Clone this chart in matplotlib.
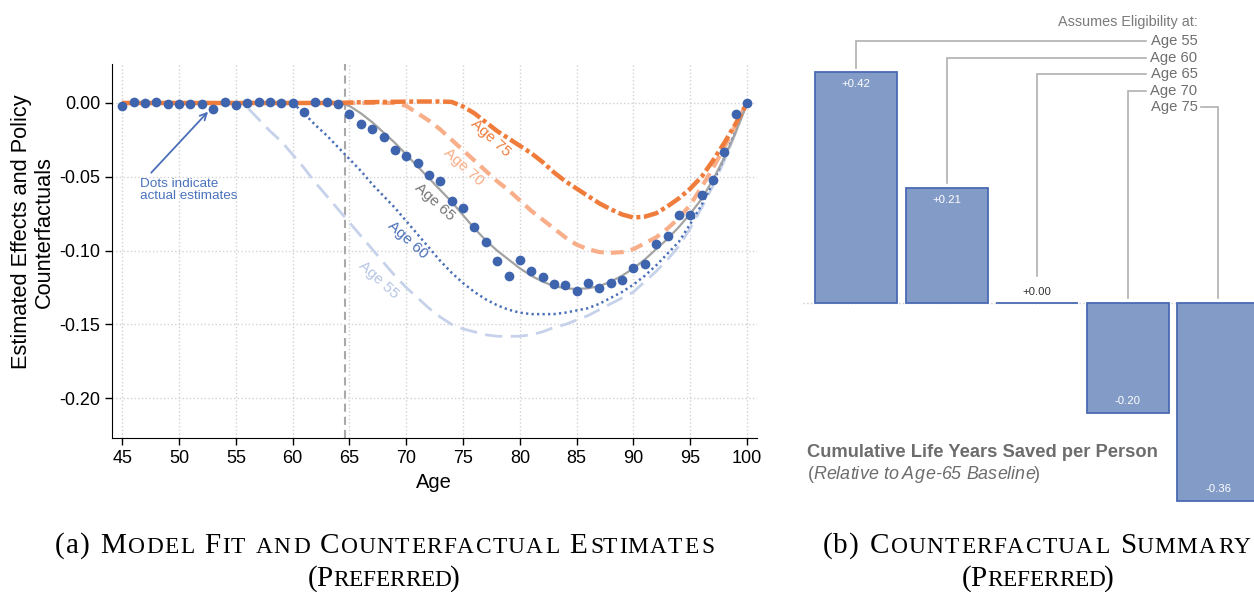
import numpy as np
import matplotlib.pyplot as plt
from matplotlib.font_manager import findfont, FontProperties
from matplotlib.ft2font import FT2Font

plt.rcParams['font.family'] = ['Liberation Sans', 'DejaVu Sans']

# ---- model fit and counterfactual paths (effect by age) ----
ages = np.arange(45, 101)

estimates = [-0.002, 0.0005, 0.0, 0.001, -0.001, -0.001, -0.0007, -0.001, -0.004, 0.0007,
             -0.0014, 0.0, 0.0005, 0.0007, 0.0, 0.0, -0.006, 0.0005, 0.0005, -0.0007,
             -0.0077, -0.0145, -0.0176, -0.0228, -0.032, -0.0357, -0.0409, -0.049, -0.0526, -0.0664,
             -0.071, -0.0838, -0.0942, -0.1067, -0.117, -0.1062, -0.1137, -0.118, -0.1225, -0.1236,
             -0.1275, -0.1216, -0.1252, -0.1216, -0.1196, -0.1116, -0.109, -0.0954, -0.09, -0.076,
             -0.076, -0.0622, -0.0524, -0.0332, -0.0075, 0.0]

age55 = [0.0] * 11 + [
    -0.003, -0.011, -0.019, -0.026, -0.035, -0.044, -0.054, -0.063, -0.072, -0.081,
    -0.090, -0.099, -0.108, -0.117, -0.125, -0.132, -0.139, -0.145, -0.150, -0.153,
    -0.155, -0.157, -0.158, -0.158, -0.158, -0.157, -0.155, -0.152, -0.150, -0.147,
    -0.144, -0.140, -0.136, -0.132, -0.128, -0.121, -0.114, -0.106, -0.097, -0.085,
    -0.071, -0.056, -0.039, -0.020, 0.0]

age60 = [0.0] * 16 + [
    -0.007, -0.015, -0.022, -0.030, -0.038, -0.046, -0.055, -0.063, -0.071, -0.080,
    -0.089, -0.098, -0.107, -0.115, -0.122, -0.128, -0.133, -0.137, -0.140, -0.142,
    -0.143, -0.143, -0.143, -0.142, -0.1405, -0.139, -0.136, -0.132, -0.128, -0.123,
    -0.117, -0.110, -0.102, -0.094, -0.082, -0.069, -0.054, -0.037, -0.019, 0.0]

age65 = [0.0] * 20 + [
    -0.002, -0.007, -0.013, -0.020, -0.027, -0.035, -0.043, -0.051, -0.059, -0.067,
    -0.076, -0.085, -0.093, -0.100, -0.106, -0.112, -0.117, -0.121, -0.124, -0.1255,
    -0.126, -0.1255, -0.124, -0.121, -0.117, -0.112, -0.106, -0.099, -0.092, -0.084,
    -0.075, -0.065, -0.052, -0.037, -0.020, 0.0]

age70 = [0.0] * 25 + [
    -0.002, -0.007, -0.012, -0.018, -0.025, -0.032, -0.039, -0.046, -0.053, -0.059,
    -0.066, -0.073, -0.079, -0.085, -0.091, -0.096, -0.099, -0.101, -0.1015, -0.101,
    -0.099, -0.095, -0.091, -0.085, -0.078, -0.069, -0.057, -0.044, -0.030, -0.015, 0.0]

age75 = [0.0] * 20 + [
    0.0003, 0.0005, 0.0006, 0.0007, 0.0008, 0.0009, 0.001, 0.001, 0.001, 0.0007,
    -0.0024, -0.007, -0.013, -0.019, -0.024, -0.029, -0.034, -0.040, -0.047, -0.053,
    -0.058, -0.063, -0.068, -0.072, -0.0755, -0.0776, -0.077, -0.0747, -0.070, -0.0646,
    -0.058, -0.050, -0.039, -0.027, -0.014, 0.0]

cutoff = 64.6

# ---- summary: life years saved relative to age-65 baseline ----
elig_labels = ['Age 55', 'Age 60', 'Age 65', 'Age 70', 'Age 75']
savings = [0.42, 0.21, 0.00, -0.20, -0.36]

W, H = 1254, 592
fig = plt.figure(figsize=(W / 100, H / 100), dpi=100)


def box(l, t, r, b):
    return [l / W, 1 - b / H, (r - l) / W, (b - t) / H]


_fonts = {}


def ft_font(family, style):
    key = (family, style)
    if key not in _fonts:
        path = findfont(FontProperties(family=family, style=style))
        _fonts[key] = FT2Font(path, hinting_factor=1)
    return _fonts[key]


def place_runs(runs, x, y, align='left'):
    """Set text runs glyph by glyph on one baseline, pixel coords.
    runs: (string, text kwargs, extra tracking in px)."""
    glyphs = []
    pen = 0.0
    last_track = 0.0
    for s, kw, track in runs:
        f = ft_font(kw.get('family', 'Liberation Sans'), kw.get('style', 'normal'))
        f.set_size(kw['fontsize'], 100)
        for ch in s:
            g = f.load_char(ord(ch))
            glyphs.append((ch, pen + g.horiBearingX / 64, kw))
            pen += g.linearHoriAdvance / 65536 + track
        last_track = track
    total = pen - last_track
    x0 = x - total / 2 if align == 'center' else x
    for ch, px, kw in glyphs:
        if ch != ' ':
            fig.text((x0 + px) / W, 1 - y / H, ch, va='baseline', ha='left', **kw)


def small_caps(text, xc, y, size, ratio=0.8, track=1.6, keep=''):
    """Small-caps line; the leading `keep` part stays in normal case."""
    big = dict(fontsize=size, family='Liberation Serif', color='black')
    small = dict(fontsize=size * ratio, family='Liberation Serif', color='black')
    runs = [(keep, big, track)] if keep else []
    for ch in text:
        if ch.islower():
            runs.append((ch.upper(), small, track))
        else:
            runs.append((ch, big, track))
    place_runs(runs, xc, y, align='center')


# ================= left panel =================
ax = fig.add_axes(box(112.3, 64, 756.7, 437.7))
ax.set_xlim(44.12, 100.85)
ax.set_ylim(-0.2267, 0.0264)

ax.plot(ages, age55, color='#c6d2ea', lw=2, dashes=(6.2, 3), zorder=2)
ax.plot(ages, age60, color='#4a6fb8', lw=1.8, dashes=(0.9, 1.3), zorder=2.1)
ax.plot(ages, age70, color='#f8ae88', lw=3, dashes=(3.1, 1.7), zorder=2.2)
ax.plot(ages, age65, color='#a3a3a3', lw=1.6, zorder=2.3)
pre = ages <= 64
a75 = np.array(age75)
ax.plot(ages[pre], a75[pre], color='#f07c3c', lw=3.2, zorder=2.4,
        solid_capstyle='butt')
ax.plot(ages[ages >= 64], a75[ages >= 64], color='#f07c3c', lw=3.2,
        dashes=(3.4, 0.8, 0.9, 0.8), zorder=2.4)
ax.plot(ages, estimates, 'o', ms=7, color='#3e64ad', mew=0, zorder=5)

ax.axvline(cutoff, color='#a9a9a9', lw=1.5, dashes=(3.9, 2.4), zorder=1.5)

curve_labels = [
    ('Age 75', 77.45, -0.0238, '#f07c3c'),
    ('Age 70', 75.02, -0.0431, '#f8ad85'),
    ('Age 65', 72.53, -0.0668, '#777777'),
    ('Age 60', 70.09, -0.0928, '#4a6fb8'),
    ('Age 55', 67.54, -0.1199, '#b5c5e3'),
]
for txt, x, y, c in curve_labels:
    ax.text(x, y, txt, color=c, fontsize=11, rotation=-42,
            rotation_mode='anchor', ha='center', va='center', zorder=6)

ax.annotate('Dots indicate\nactual estimates', xy=(52.55, -0.0059),
            xytext=(46.55, -0.0505), ha='left', va='top', color='#4a72bd',
            fontsize=9.7, linespacing=1.1,
            arrowprops=dict(arrowstyle='->', color='#4a6fb8', lw=1.3,
                            relpos=(0.07, 1.0), shrinkA=2, shrinkB=0,
                            mutation_scale=12))

ax.set_xticks(range(45, 101, 5))
yt = [0.0, -0.05, -0.10, -0.15, -0.20]
ax.set_yticks(yt)
ax.set_yticklabels([f'{v:.2f}' for v in yt])
ax.tick_params(labelsize=13, length=5, width=1, direction='out', colors='black')
for side in ('top', 'right'):
    ax.spines[side].set_visible(False)
ax.grid(True, color='#d2d2d2', linestyle=':', linewidth=1)
ax.set_axisbelow(True)

fig.text(434 / W, 1 - 483 / H, 'Age', fontsize=14.5, ha='center', va='center')
fig.text(22 / W, 1 - 232 / H, 'Estimated Effects and Policy', fontsize=15.7,
         rotation=90, ha='center', va='center')
fig.text(44 / W, 1 - 232 / H, 'Counterfactuals', fontsize=15.7,
         rotation=90, ha='center', va='center')

# ================= right panel =================
ax2 = fig.add_axes(box(803, 0, 1254, 520))
ax2.set_xlim(-0.585, 4.393)
ax2.set_ylim(-0.3945, 0.551)
ax2.axis('off')

ax2.axhline(0, color='#cccccc', lw=1, ls=':', zorder=0)
xs = np.arange(len(savings))
ax2.bar(xs, savings, width=0.905, color='#839bc7', edgecolor='#4a6ab3',
        linewidth=1.3, zorder=2)

for x, v in zip(xs, savings):
    if v > 0:
        ax2.text(x, v - 0.022, f'{v:+.2f}', color='white', fontsize=8.2,
                 ha='center', va='center', zorder=3)
    elif v < 0:
        ax2.text(x, v + 0.021, f'{v:+.2f}', color='white', fontsize=8.2,
                 ha='center', va='center', zorder=3)
    else:
        ax2.text(x, v + 0.02, f'{v:+.2f}', color='#333333', fontsize=8.2,
                 ha='center', va='center', zorder=3)

# connector lines from each bar to its eligibility label
label_right = 3.77
row_top, row_step = 0.476, 0.030
line_end = 3.198
gray = '#b0b0b0'
ax2.text(label_right, 0.511, 'Assumes Eligibility at:', color='#7a7a7a',
         fontsize=10.4, ha='right', va='center')
for i, (lab, v) in enumerate(zip(elig_labels, savings)):
    ry = row_top - row_step * i
    ax2.text(label_right, ry, lab, color='#6f6f6f', fontsize=10.6,
             ha='right', va='center')
    if v > 0:
        bottom = v + 0.008
    elif v == 0:
        bottom = 0.049
    else:
        bottom = 0.0096
    if i < len(savings) - 1:
        ax2.plot([i, i, line_end], [bottom, ry, ry], color=gray, lw=1.2,
                 solid_joinstyle='miter')
    else:
        ax2.plot([3.806, i, i], [ry, ry, bottom], color=gray, lw=1.2,
                 solid_joinstyle='miter')

ax2.text(-0.541, -0.271, 'Cumulative Life Years Saved per Person',
         fontsize=13.2, fontweight='bold', color='#6d6d6d', ha='left', va='center')
sub = dict(fontsize=12.9, color='#6d6d6d', family='Liberation Sans')
place_runs([('(', sub, 0),
            ('Relative to Age-65 Baseline', dict(style='italic', **sub), 0),
            (')', sub, 0)], 807, 479)

# ================= captions =================
small_caps(' Model Fit and Counterfactual Estimates', 383, 553, 21, keep='(a)')
small_caps('(Preferred)', 383, 586, 21, track=0.0)
small_caps(' Counterfactual Summary', 1036, 553, 21, keep='(b)')
small_caps('(Preferred)', 1037, 586, 21, track=0.0)

fig.savefig('out.png', dpi=100)
